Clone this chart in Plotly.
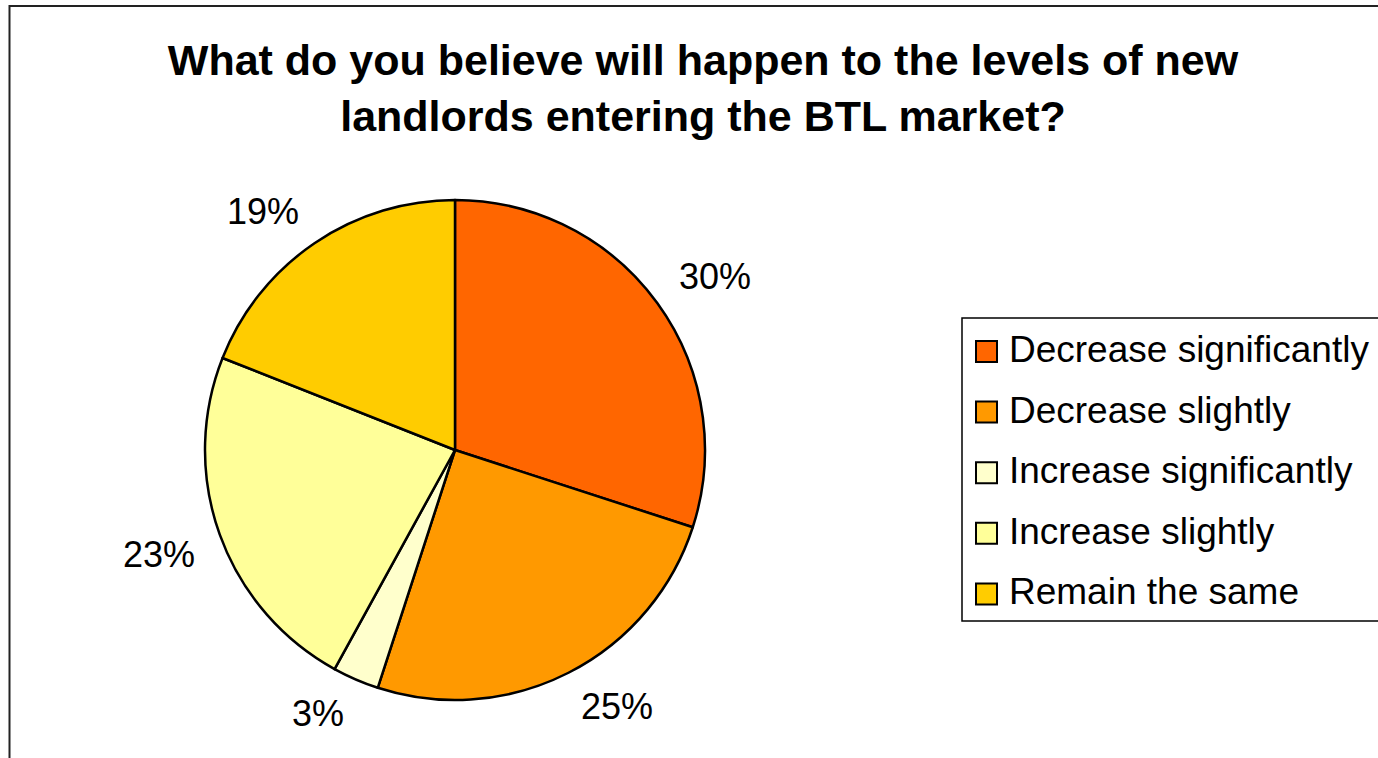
import math
import plotly.graph_objects as go

# Survey responses (share of respondents, %)
categories = [
    "Decrease significantly",
    "Decrease slightly",
    "Increase significantly",
    "Increase slightly",
    "Remain the same",
]
shares = [30, 25, 3, 23, 19]
colors = ["#FF6600", "#FF9900", "#FFFFCC", "#FFFF99", "#FFCC00"]

title_text = ("What do you believe will happen to the levels of new<br>"
              "landlords entering the BTL market?")

W, H = 1378, 758
FONT = "Liberation Sans, Arial, sans-serif"

# Pie geometry in pixels
PIE_CX, PIE_CY, PIE_R = 455, 450, 250
LABEL_DIST = 274   # distance from centre to the near corner of each label
LABEL_HALF_H = 12  # half the cap height of the label text


def px_x(x):
    return x / W


def px_y(y):
    return 1 - y / H


fig = go.Figure()

fig.add_trace(go.Pie(
    labels=categories,
    values=shares,
    sort=False,
    direction="clockwise",
    rotation=0,
    marker=dict(colors=colors, line=dict(color="#000000", width=2.5)),
    textinfo="none",
    domain=dict(x=[px_x(PIE_CX - PIE_R), px_x(PIE_CX + PIE_R)],
                y=[px_y(PIE_CY + PIE_R), px_y(PIE_CY - PIE_R)]),
    showlegend=False,
    hoverinfo="label+percent",
))

shapes = []
annotations = []

# Percentage labels placed outside each slice, at its mid angle
total = sum(shares)
cum = 0
for v in shares:
    theta = 2 * math.pi * (cum + v / 2) / total   # clockwise from 12 o'clock
    cum += v
    sx, cy_ = math.sin(theta), math.cos(theta)
    px = PIE_CX + LABEL_DIST * sx
    py = PIE_CY - LABEL_DIST * cy_
    py += -LABEL_HALF_H if cy_ > 0 else LABEL_HALF_H
    annotations.append(dict(
        xref="paper", yref="paper", x=px_x(px), y=px_y(py),
        xanchor="left" if sx > 0 else "right", yanchor="middle",
        text=f"{round(100 * v / total)}%", showarrow=False,
        font=dict(family=FONT, size=36, color="#000000"),
    ))

# Outer chart frame (runs off the right and bottom edges)
shapes.append(dict(type="rect", xref="paper", yref="paper",
                   x0=px_x(9.5), x1=1.05, y0=-0.05, y1=px_y(6),
                   line=dict(color="#222222", width=2), fillcolor="rgba(0,0,0,0)"))

# Legend box
leg_left, leg_top, leg_bottom = 962, 318, 621
shapes.append(dict(type="rect", xref="paper", yref="paper",
                   x0=px_x(leg_left), x1=1.05, y0=px_y(leg_bottom), y1=px_y(leg_top),
                   line=dict(color="#000000", width=1.5), fillcolor="rgba(0,0,0,0)"))

row_first, row_step, swatch = 351.5, 60.6, 21
for i, (name, col) in enumerate(zip(categories, colors)):
    cy = row_first + i * row_step
    shapes.append(dict(type="rect", xref="paper", yref="paper",
                       x0=px_x(976), x1=px_x(976 + swatch),
                       y0=px_y(cy + swatch / 2), y1=px_y(cy - swatch / 2),
                       line=dict(color="#000000", width=2), fillcolor=col))
    annotations.append(dict(xref="paper", yref="paper",
                            x=px_x(1007), y=px_y(cy - 2),
                            xanchor="left", yanchor="middle",
                            text=name, showarrow=False,
                            font=dict(family=FONT, size=37, color="#000000")))

fig.update_layout(
    width=W, height=H,
    margin=dict(l=0, r=0, t=0, b=0),
    paper_bgcolor="#FFFFFF",
    plot_bgcolor="#FFFFFF",
    title=dict(text=title_text, x=px_x(703), xanchor="center",
               y=px_y(75), yanchor="top", yref="container",
               font=dict(family=FONT, size=43, color="#000000", weight="bold")),
    shapes=shapes,
    annotations=annotations,
)

fig.write_html("out.html")
